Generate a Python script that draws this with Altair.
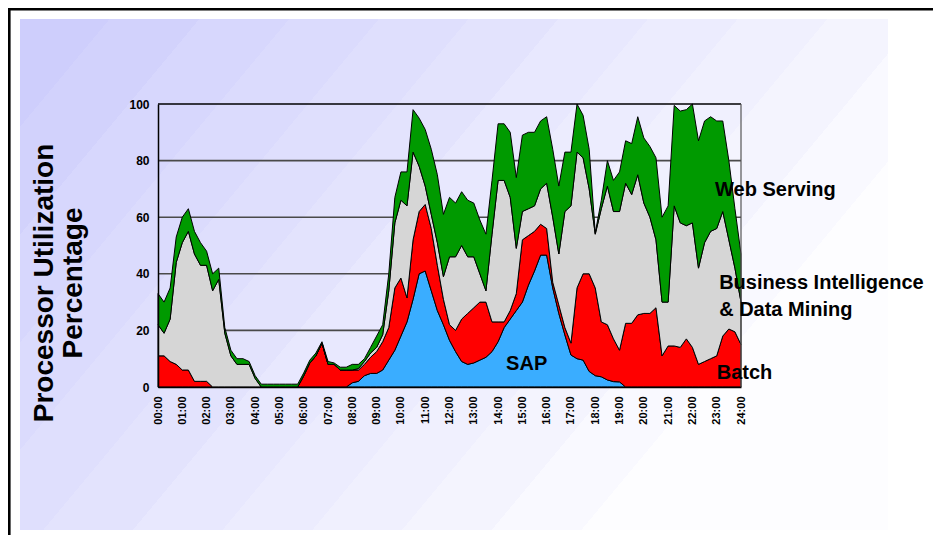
import altair as alt
import pandas as pd

# ---------------- data ----------------
hour_labels = ["00:00", "01:00", "02:00", "03:00", "04:00", "05:00", "06:00",
               "07:00", "08:00", "09:00", "10:00", "11:00", "12:00", "13:00",
               "14:00", "15:00", "16:00", "17:00", "18:00", "19:00", "20:00",
               "21:00", "22:00", "23:00", "24:00"]
y_ticks = [0, 20, 40, 60, 80, 100]
grid_values = [20, 40, 60, 80]

# values every 15 minutes, 00:00 .. 24:00 (97 points)
sap = [0, 0, 0, 0, 0, 0, 0, 0, 0, 0, 0, 0, 0, 0, 0, 0,
       0, 0, 0, 0, 0, 0, 0, 0, 0, 0, 0, 0, 0, 0, 0, 0,
       1.5, 2, 4, 4.8, 4.8, 6, 9.5, 13, 18, 23, 31, 40, 41, 34, 27, 22,
       16.5, 12.5, 9, 8, 8.5, 9.5, 10.5, 12.5, 16, 21, 24, 27, 30, 36, 41, 46.6,
       46.6, 35, 26, 18.4, 11.3, 10, 9.5, 5.5, 4, 3.6, 2.5, 1.9, 1.8, 0, 0, 0,
       0, 0, 0, 0, 0, 0, 0, 0, 0, 0, 0, 0, 0, 0, 0, 0,
       0]
batch = [11, 11, 9, 8, 6, 6, 2, 2, 2, 0, 0, 0, 0, 0, 0, 0,
         0, 0, 0, 0, 0, 0, 0, 0, 4, 8.5, 11, 15.5, 8, 8, 6, 6,
         4.5, 4, 4, 5.7, 7.7, 10, 11.5, 22, 20.5, 8.5, 21, 22, 23.5, 22, 16, 9,
         5.5, 7.5, 15, 18, 19.5, 20.5, 19.5, 10.5, 7, 2, 3, 6, 22, 17.5, 14, 10.9,
         9.4, 2, 3, 2.6, 4.2, 25, 30.5, 34.5, 31, 19.4, 19.5, 15.1, 11.2, 22.5, 22.5, 25.5,
         26, 26, 28, 11, 14.5, 14.5, 14, 17, 14, 8, 9, 10, 11, 18, 20.5, 19.5,
         15]
bi = [11, 8, 15, 36, 45, 49, 45, 41, 41, 34, 38, 19, 11, 8, 8, 8,
      3, 0, 0, 0, 0, 0, 0, 0, 0, 0, 0, 0, 0, 0, 0, 0,
      0, 0.5, 1, 1.5, 1.5, 2.5, 13, 23, 27.5, 32.5, 31, 16, 6.5, 5, 8, 8,
      24, 26, 26, 20, 18, 10, 4, 31, 50, 50, 40, 16, 10, 9.5, 9, 12.5,
      16, 23, 18, 41, 48.5, 48, 41, 30, 19, 40, 49, 45, 49, 49.5, 45.5, 49.5,
      39, 34, 24, 19, 15.5, 49.5, 44, 40, 44, 34, 42, 45, 45, 44, 31.5, 22.5,
      15]
web = [11, 11, 11, 9, 9, 8, 8, 8, 5, 6, 4, 2, 2, 2, 2, 1,
       1, 1, 1, 1, 1, 1, 1, 1, 1, 1, 1, 0.5, 1, 0.5, 1, 1,
       2, 1.5, 1, 2, 4, 3.5, 6, 9, 10, 12, 15, 17, 20, 23, 24, 22,
       21, 19, 19, 20, 19, 19, 20, 19, 20, 20, 23, 25, 27, 27, 26, 24,
       23.5, 24, 24, 21, 19, 17, 15, 14, 0.5, 3, 9, 11, 14, 15, 18, 20.5,
       23, 25, 29, 30, 34, 35.5, 39.5, 41, 42, 45, 43, 40.5, 38, 32, 28, 21,
       17]

series_names = ["SAP", "Batch", "Business Intelligence & Data Mining", "Web Serving"]
series_colors = ["#3aadff", "#ff0000", "#d6d6d6", "#009a00"]
series_values = [sap, batch, bi, web]

label_text = ["Web Serving", "Business Intelligence", "& Data Mining", "Batch", "SAP"]
label_hour = [22.93, 23.1, 23.1, 23.0, 14.33]
label_pct = [67.5, 34.5, 25.0, 2.8, 6.0]

# ---------------- tables ----------------
times = [i * 0.25 for i in range(len(sap))]
rows = []
for k, (name, vals) in enumerate(zip(series_names, series_values)):
    for t, v in zip(times, vals):
        rows.append({"hour": t, "series": name, "value": v, "order": k})
df = pd.DataFrame(rows)

labels_df = pd.DataFrame({"text": label_text, "hour": label_hour, "pct": label_pct})
grid_df = pd.DataFrame({"v": grid_values})
top_df = pd.DataFrame({"v": [y_ticks[-1]]})
right_df = pd.DataFrame({"hour": [len(hour_labels) - 1]})

FONT = "Liberation Sans"
W, H = 583, 283

x_scale = alt.Scale(domain=[0, 24], nice=False, zero=False)
y_scale = alt.Scale(domain=[0, 100], nice=False)

x_axis = alt.Axis(values=list(range(len(hour_labels))),
                  labelExpr="%s[datum.value]" % str(hour_labels),
                  labelAngle=-90, labelFontSize=11, labelFontWeight="bold",
                  labelFont=FONT, labelColor="black", labelPadding=9,
                  labelOverlap=False, labelFlush=False,
                  ticks=False, grid=False, domainColor="black",
                  domainWidth=1.5, title=None, zindex=1)
y_axis = alt.Axis(values=y_ticks, labelFontSize=12, labelFontWeight="bold",
                  labelFont=FONT, labelColor="black", labelPadding=9,
                  labelOverlap=False,
                  ticks=False, grid=False, domainColor="black", domainWidth=1.5,
                  title=["Processor Utilization", "Percentage"],
                  titleFont=FONT, titleFontSize=28, titleFontWeight="bold",
                  titleColor="black", titleAngle=-90, titleAlign="center",
                  titleBaseline="alphabetic", titleLineHeight=29,
                  titleX=-106, titleY=178.5, zindex=1)

# stepped diagonal background gradient
n_bands = 12
c0, c1 = (206, 206, 252), (253, 253, 255)
stops = []
for k in range(n_bands):
    f = k / (n_bands - 1)
    col = "#%02x%02x%02x" % tuple(int(round(a + (b - a) * f)) for a, b in zip(c0, c1))
    stops.append(alt.GradientStop(color=col, offset=k / n_bands))
    stops.append(alt.GradientStop(color=col, offset=(k + 1) / n_bands))
bg_grad = alt.LinearGradient(gradient="linear", stops=stops, x1=0, y1=0, x2=1, y2=0.49)

one = alt.Data(values=[{"a": 1}])

background = alt.Chart(one).mark_rect(fill=bg_grad).encode(
    x=alt.value(-138), x2=alt.value(730), y=alt.value(-85), y2=alt.value(426)
)

grid = alt.Chart(grid_df).mark_rule(color="#4a4a4a", strokeWidth=1.6).encode(
    y=alt.Y("v:Q", scale=y_scale, axis=y_axis)
)

areas = alt.Chart(df).mark_area(stroke="black", strokeWidth=1, interpolate="linear").encode(
    x=alt.X("hour:Q", scale=x_scale, axis=x_axis),
    y=alt.Y("value:Q", stack="zero", scale=y_scale, axis=y_axis),
    color=alt.Color("series:N", scale=alt.Scale(domain=series_names, range=series_colors),
                    legend=None),
    order=alt.Order("order:Q"),
)

top_border = alt.Chart(top_df).mark_rule(color="black", strokeWidth=1.5).encode(
    y=alt.Y("v:Q", scale=y_scale, axis=y_axis)
)
right_border = alt.Chart(right_df).mark_rule(color="#555555", strokeWidth=1.2).encode(
    x=alt.X("hour:Q", scale=x_scale, axis=x_axis)
)

texts = alt.Chart(labels_df).mark_text(
    align="left", baseline="alphabetic", fontSize=20, fontWeight="bold", font=FONT,
    color="black"
).encode(
    x=alt.X("hour:Q", scale=x_scale, axis=x_axis),
    y=alt.Y("pct:Q", scale=y_scale, axis=y_axis),
    text="text:N",
)

frame_left = alt.Chart(one).mark_rule(color="black", strokeWidth=2.6).encode(
    x=alt.value(-148.7), y=alt.value(-96), y2=alt.value(431)
)
frame_top = alt.Chart(one).mark_rule(color="black", strokeWidth=2.5).encode(
    x=alt.value(-150), x2=alt.value(775), y=alt.value(-94.75)
)

chart = alt.layer(
    background, grid, areas, top_border, right_border, texts, frame_left, frame_top
).properties(
    width=W, height=H,
    autosize=alt.AutoSizeParams(type="none"),
    padding={"left": 150, "top": 96, "right": 192, "bottom": 148},
    background="white",
).configure_view(stroke=None)

chart.save("out.html", embed_options={"renderer": "svg", "actions": False})
